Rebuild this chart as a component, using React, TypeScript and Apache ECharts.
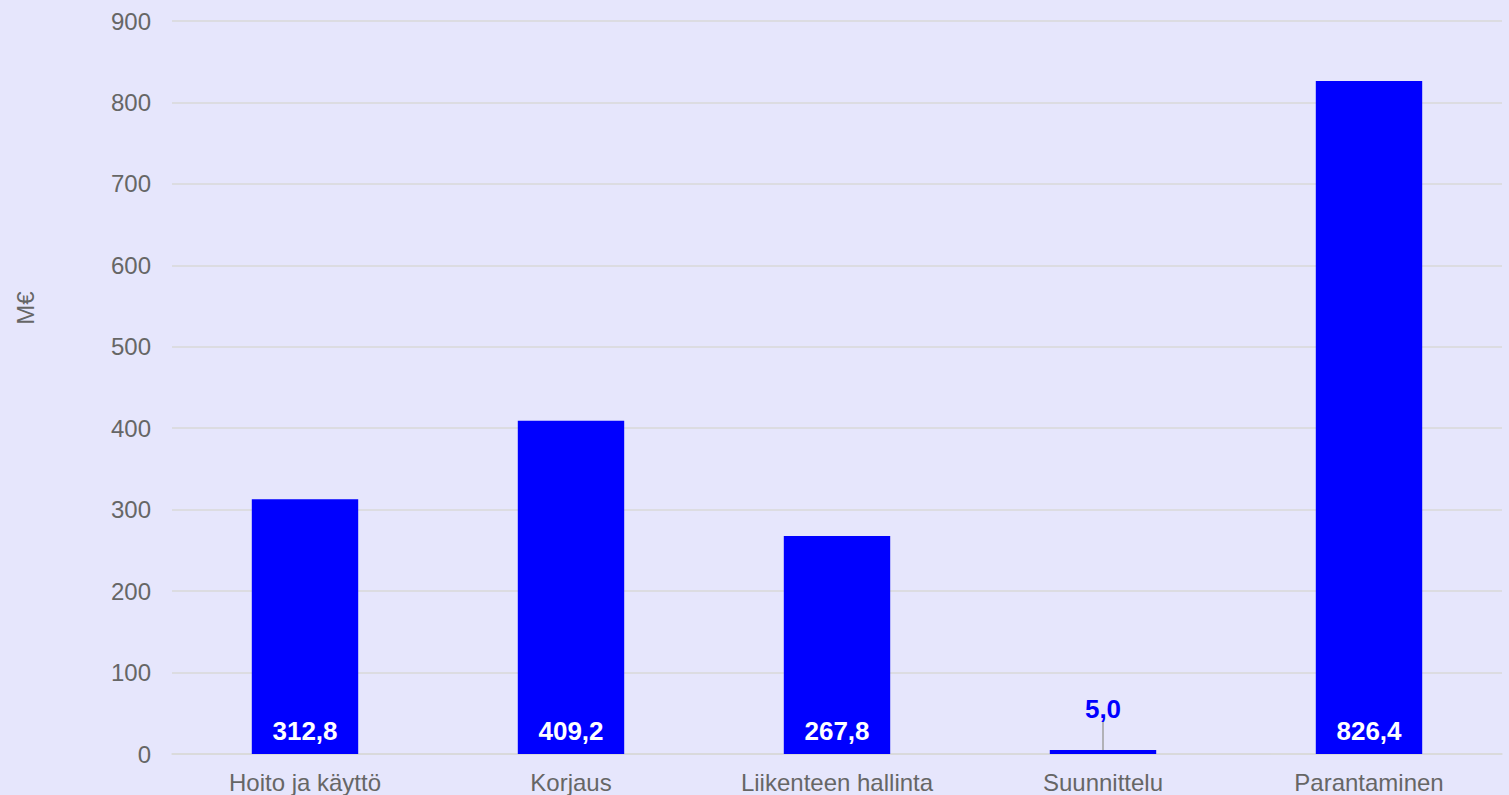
import React, { useEffect, useRef } from "react";
import * as echarts from "echarts";

const categories = ["Hoito ja käyttö", "Korjaus", "Liikenteen hallinta", "Suunnittelu", "Parantaminen"];
const values = [312.8, 409.2, 267.8, 5.0, 826.4];
const yAxisName = "M€";

const fmt = (v: number) => v.toFixed(1).replace(".", ",");

export default function App() {
  const ref = useRef<HTMLDivElement>(null);
  useEffect(() => {
    document.body.style.margin = "0";
    const chart = echarts.init(ref.current!, null, { renderer: "svg" });
    const font = "Liberation Sans, Arial, sans-serif";
    chart.setOption({
      animation: false,
      backgroundColor: "#E6E6FC",
      textStyle: { fontFamily: font },
      grid: { left: 172, right: 7, top: 21, bottom: 41 },
      graphic: [
        {
          type: "text",
          x: 25,
          y: 308,
          rotation: Math.PI / 2,
          style: {
            text: yAxisName,
            fill: "#666666",
            fontSize: 24,
            fontFamily: font,
            align: "center",
            verticalAlign: "middle",
          },
        },
      ],
      xAxis: {
        type: "category",
        data: categories,
        axisTick: { show: false },
        axisLine: { lineStyle: { color: "#D9D9D9", width: 1.5 } },
        axisLabel: { color: "#666666", fontSize: 24, margin: 16, fontFamily: font },
      },
      yAxis: {
        type: "value",
        min: 0,
        max: 900,
        interval: 100,
        axisLabel: { color: "#666666", fontSize: 24, margin: 21, fontFamily: font },
        splitLine: { lineStyle: { color: "#D9D9D9", width: 1.5 } },
        axisLine: { show: false },
        axisTick: { show: false },
      },
      series: [
        {
          type: "bar",
          barWidth: "40%",
          itemStyle: { color: "#0000FF" },
          data: values.map((v) =>
            v < 50
              ? {
                  value: v,
                  label: { position: "top", color: "#0000FF", distance: 4, padding: [0, 0, 10, 0] },
                  labelLine: { show: true, lineStyle: { color: "#A0A0A0", width: 1.5 } },
                }
              : { value: v }
          ),
          label: {
            show: true,
            position: "insideBottom",
            distance: 10,
            color: "#FFFFFF",
            fontSize: 26,
            fontWeight: "bold",
            fontFamily: font,
            formatter: (p: any) => fmt(p.value),
          },
          labelLayout: (p: any) => (p.dataIndex === 3 ? { dy: -14 } : {}),
          labelLine: { show: false },
        },
      ],
    });
    return () => chart.dispose();
  }, []);
  return <div ref={ref} style={{ width: 1509, height: 795 }} />;
}
